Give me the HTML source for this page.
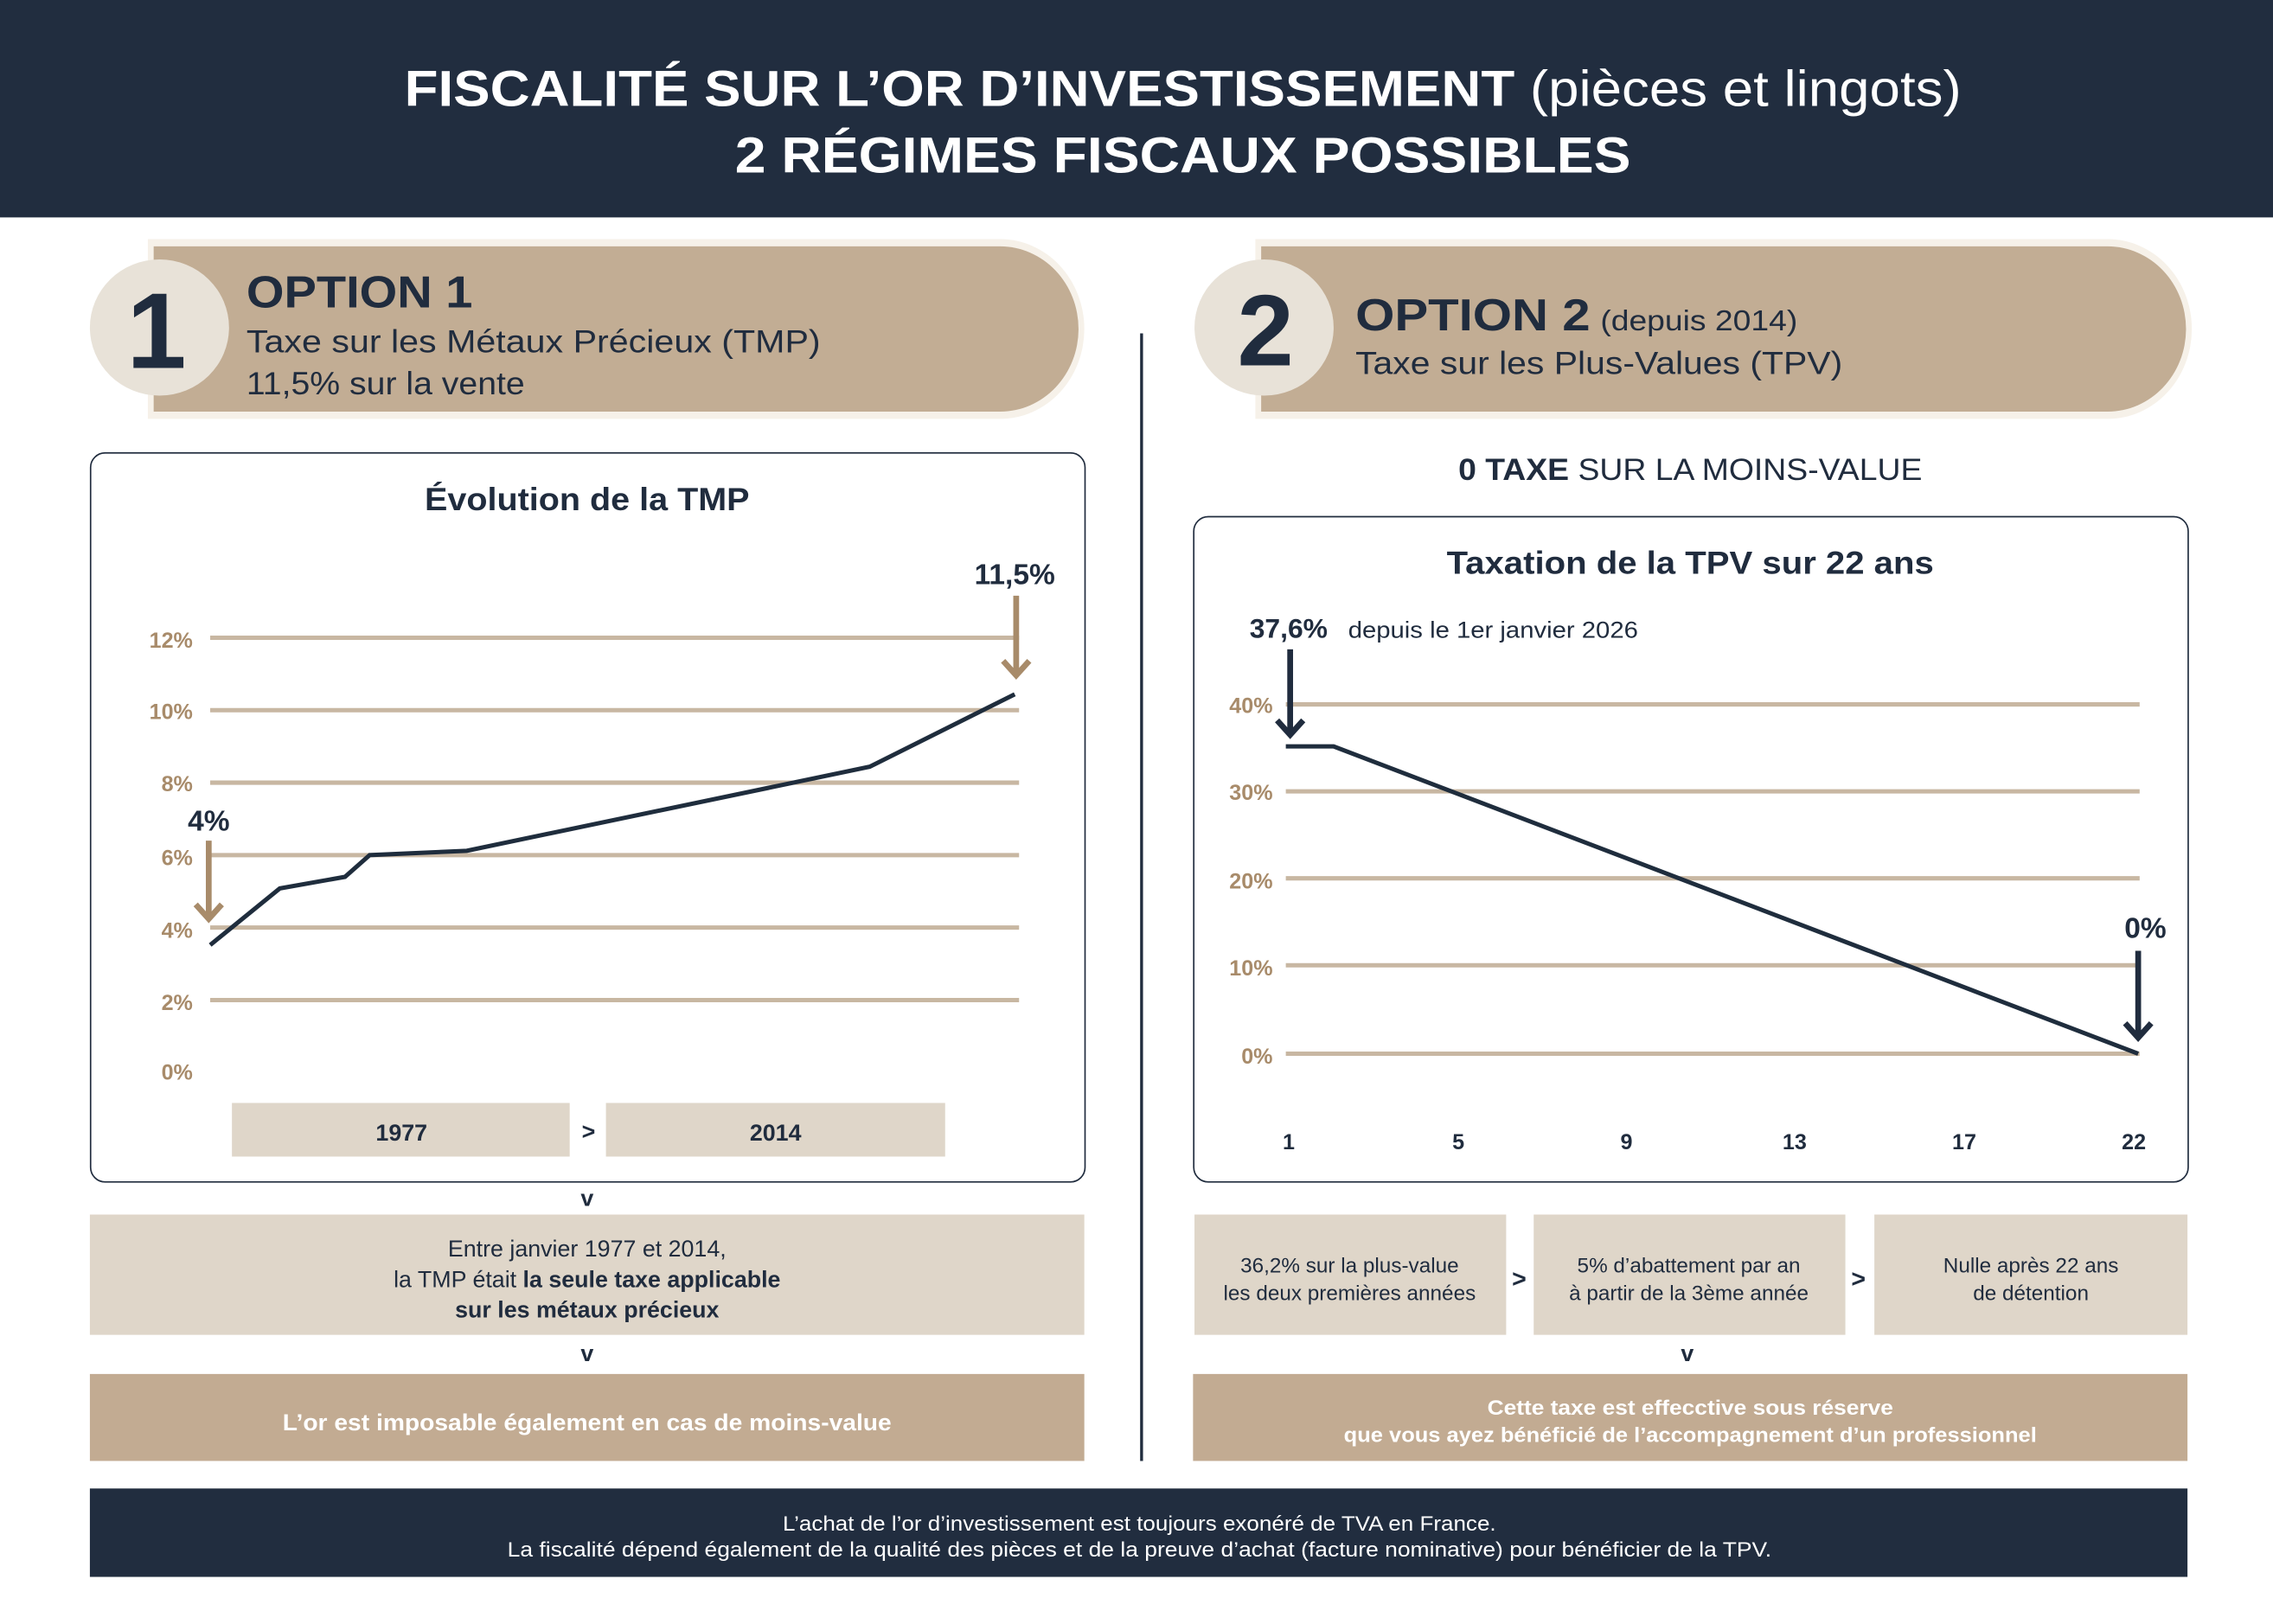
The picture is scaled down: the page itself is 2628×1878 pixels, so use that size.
<!DOCTYPE html>
<html><head><meta charset="utf-8"><style>
html,body{margin:0;padding:0;background:#fff;}
svg{display:block;}
text{font-family:"Liberation Sans",sans-serif;}
.d{fill:#202c3e}.b{font-weight:bold}
.lab{fill:#a88b6a;font-weight:bold;font-size:15px;text-anchor:end}
.g{stroke:#c8b7a2;stroke-width:3}
</style></head><body>
<svg width="2628" height="1878" viewBox="0 0 1568 1120.5" preserveAspectRatio="none" xmlns="http://www.w3.org/2000/svg">
<defs><marker id="ab" viewBox="0 0 10 10" refX="5" refY="5" markerWidth="4" markerHeight="4" orient="auto"><path d="M1 1 L5 5 L1 9" fill="none" stroke="#a88b6a" stroke-width="2"/></marker></defs>
<rect x="0" y="0" width="1568" height="150" fill="#212d3f"/>
<text x="816" y="73" fill="#fff" text-anchor="middle" font-size="35" font-weight="bold" textLength="1074" lengthAdjust="spacingAndGlyphs">FISCALITÉ SUR L’OR D’INVESTISSEMENT <tspan font-weight="normal">(pièces et lingots)</tspan></text>
<text x="816" y="119" fill="#fff" text-anchor="middle" font-size="35" font-weight="bold" textLength="618" lengthAdjust="spacingAndGlyphs">2 RÉGIMES FISCAUX POSSIBLES</text>

<!-- option 1 -->
<path d="M102 165 H690 A58 62 0 0 1 690 289 H102 Z" fill="#f6f1e9"/>
<path d="M106 170 H690 A54 57 0 0 1 690 284 H106 Z" fill="#c2ad94"/>
<ellipse cx="110" cy="226" rx="48" ry="47" fill="#e8e2d8"/>
<text x="108" y="254" class="d b" font-size="74" text-anchor="middle">1</text>
<text x="170" y="212" class="d b" font-size="31" textLength="156" lengthAdjust="spacingAndGlyphs">OPTION 1</text>
<text x="170" y="243" class="d" font-size="22" textLength="396" lengthAdjust="spacingAndGlyphs">Taxe sur les Métaux Précieux (TMP)</text>
<text x="170" y="272" class="d" font-size="22" textLength="192" lengthAdjust="spacingAndGlyphs">11,5% sur la vente</text>

<!-- option 2 -->
<path d="M866 165 H1454 A58 62 0 0 1 1454 289 H866 Z" fill="#f6f1e9"/>
<path d="M870 170 H1454 A54 57 0 0 1 1454 284 H870 Z" fill="#c2ad94"/>
<ellipse cx="872" cy="226" rx="48" ry="47" fill="#e8e2d8"/>
<text x="873" y="252" class="d b" font-size="70" text-anchor="middle">2</text>
<text x="935" y="228" class="d b" font-size="31" textLength="162" lengthAdjust="spacingAndGlyphs">OPTION 2</text>
<text x="1104" y="228" class="d" font-size="20" textLength="136" lengthAdjust="spacingAndGlyphs">(depuis 2014)</text>
<text x="935" y="258" class="d" font-size="22" textLength="336" lengthAdjust="spacingAndGlyphs">Taxe sur les Plus-Values (TPV)</text>

<line x1="787.5" y1="230" x2="787.5" y2="1008" stroke="#202c3e" stroke-width="2"/>

<!-- left chart -->
<rect x="62.5" y="312.5" width="686" height="503" rx="10" fill="#fff" stroke="#202c3e" stroke-width="1"/>
<text x="405" y="352" class="d b" font-size="22" text-anchor="middle" textLength="224" lengthAdjust="spacingAndGlyphs">Évolution de la TMP</text>
<g class="g"><line x1="145" y1="440" x2="703" y2="440"/><line x1="145" y1="490" x2="703" y2="490"/><line x1="145" y1="540" x2="703" y2="540"/><line x1="145" y1="590" x2="703" y2="590"/><line x1="145" y1="640" x2="703" y2="640"/><line x1="145" y1="690" x2="703" y2="690"/></g>
<text x="133" y="447" class="lab">12%</text><text x="133" y="496" class="lab">10%</text><text x="133" y="546" class="lab">8%</text><text x="133" y="597" class="lab">6%</text><text x="133" y="647" class="lab">4%</text><text x="133" y="697" class="lab">2%</text><text x="133" y="745" class="lab">0%</text>
<polyline points="145,652 193,613 238,605 255,590 322,587 600,529 700,479" fill="none" stroke="#1f2d3d" stroke-width="3"/>
<text x="144" y="573" class="d b" font-size="20" text-anchor="middle">4%</text>
<line x1="144" y1="580" x2="144" y2="634" stroke="#a88b6a" stroke-width="4"/><path d="M135 624 L144 634 L153 624" fill="none" stroke="#a88b6a" stroke-width="4"/>
<text x="700" y="403" class="d b" font-size="20" text-anchor="middle">11,5%</text>
<line x1="701" y1="411" x2="701" y2="466" stroke="#a88b6a" stroke-width="4"/><path d="M692 456 L701 466 L710 456" fill="none" stroke="#a88b6a" stroke-width="4"/>
<rect x="160" y="761" width="233" height="37" fill="#dfd6c9"/><rect x="418" y="761" width="234" height="37" fill="#dfd6c9"/>
<text x="277" y="787" class="d b" font-size="16" text-anchor="middle">1977</text>
<text x="406" y="786" class="d b" font-size="16" text-anchor="middle">&gt;</text>
<text x="535" y="787" class="d b" font-size="16" text-anchor="middle">2014</text>
<text x="405" y="832" class="d b" font-size="16" text-anchor="middle">v</text>
<rect x="62" y="838" width="686" height="83" fill="#dfd6c9"/>
<text x="405" y="867" class="d" font-size="16" text-anchor="middle">Entre janvier 1977 et 2014,</text>
<text x="405" y="888" class="d" font-size="16" text-anchor="middle">la TMP était <tspan font-weight="bold">la seule taxe applicable</tspan></text>
<text x="405" y="909" class="d b" font-size="16" text-anchor="middle">sur les métaux précieux</text>
<text x="405" y="939" class="d b" font-size="16" text-anchor="middle">v</text>
<rect x="62" y="948" width="686" height="60" fill="#c2ab92"/>
<text x="405" y="987" fill="#fff" font-weight="bold" font-size="16" text-anchor="middle" textLength="420" lengthAdjust="spacingAndGlyphs">L’or est imposable également en cas de moins-value</text>

<!-- right -->
<text x="1166" y="331" class="d" font-size="21" text-anchor="middle" textLength="320" lengthAdjust="spacingAndGlyphs"><tspan font-weight="bold">0 TAXE</tspan> SUR LA MOINS-VALUE</text>
<rect x="823.5" y="356.5" width="686" height="459" rx="10" fill="#fff" stroke="#202c3e" stroke-width="1"/>
<text x="1166" y="396" class="d b" font-size="22" text-anchor="middle" textLength="336" lengthAdjust="spacingAndGlyphs">Taxation de la TPV sur 22 ans</text>
<text x="862" y="440" class="d b" font-size="19">37,6%</text>
<text x="930" y="440" class="d" font-size="16" textLength="200" lengthAdjust="spacingAndGlyphs">depuis le 1er janvier 2026</text>
<g class="g"><line x1="887" y1="486" x2="1476" y2="486"/><line x1="887" y1="546" x2="1476" y2="546"/><line x1="887" y1="606" x2="1476" y2="606"/><line x1="887" y1="666" x2="1476" y2="666"/><line x1="887" y1="727" x2="1476" y2="727"/></g>
<text x="878" y="492" class="lab">40%</text><text x="878" y="552" class="lab">30%</text><text x="878" y="613" class="lab">20%</text><text x="878" y="673" class="lab">10%</text><text x="878" y="734" class="lab">0%</text>
<polyline points="887,515 920,515 1475,727" fill="none" stroke="#1f2d3d" stroke-width="3"/>
<line x1="890" y1="448" x2="890" y2="507" stroke="#202c3e" stroke-width="4"/><path d="M881 497 L890 507 L899 497" fill="none" stroke="#202c3e" stroke-width="4"/>
<text x="1480" y="647" class="d b" font-size="20" text-anchor="middle">0%</text>
<line x1="1475" y1="656" x2="1475" y2="716" stroke="#202c3e" stroke-width="4"/><path d="M1466 706 L1475 716 L1484 706" fill="none" stroke="#202c3e" stroke-width="4"/>
<g class="d b" font-size="15" text-anchor="middle"><text x="889" y="793">1</text><text x="1006" y="793">5</text><text x="1122" y="793">9</text><text x="1238" y="793">13</text><text x="1355" y="793">17</text><text x="1472" y="793">22</text></g>
<rect x="824" y="838" width="215" height="83" fill="#dfd6c9"/><rect x="1058" y="838" width="215" height="83" fill="#dfd6c9"/><rect x="1293" y="838" width="216" height="83" fill="#dfd6c9"/>
<g class="d" font-size="14.5" text-anchor="middle">
<text x="931" y="878">36,2% sur la plus-value</text><text x="931" y="897">les deux premières années</text>
<text x="1165" y="878">5% d’abattement par an</text><text x="1165" y="897">à partir de la 3ème année</text>
<text x="1401" y="878">Nulle après 22 ans</text><text x="1401" y="897">de détention</text></g>
<text x="1048" y="888" class="d b" font-size="17" text-anchor="middle">&gt;</text>
<text x="1282" y="888" class="d b" font-size="17" text-anchor="middle">&gt;</text>
<text x="1164" y="939" class="d b" font-size="16" text-anchor="middle">v</text>
<rect x="823" y="948" width="686" height="60" fill="#c2ab92"/>
<text x="1166" y="976" fill="#fff" font-weight="bold" font-size="14.5" text-anchor="middle" textLength="280" lengthAdjust="spacingAndGlyphs">Cette taxe est effecctive sous réserve</text>
<text x="1166" y="995" fill="#fff" font-weight="bold" font-size="14.5" text-anchor="middle" textLength="478" lengthAdjust="spacingAndGlyphs">que vous ayez bénéficié de l’accompagnement d’un professionnel</text>

<!-- footer -->
<rect x="62" y="1027" width="1447" height="61" fill="#212d3f"/>
<text x="786" y="1056" fill="#fff" font-size="14.5" text-anchor="middle" textLength="492" lengthAdjust="spacingAndGlyphs">L’achat de l’or d’investissement est toujours exonéré de TVA en France.</text>
<text x="786" y="1074" fill="#fff" font-size="14.5" text-anchor="middle" textLength="872" lengthAdjust="spacingAndGlyphs">La fiscalité dépend également de la qualité des pièces et de la preuve d’achat (facture nominative) pour bénéficier de la TPV.</text>
</svg>
</body></html>
